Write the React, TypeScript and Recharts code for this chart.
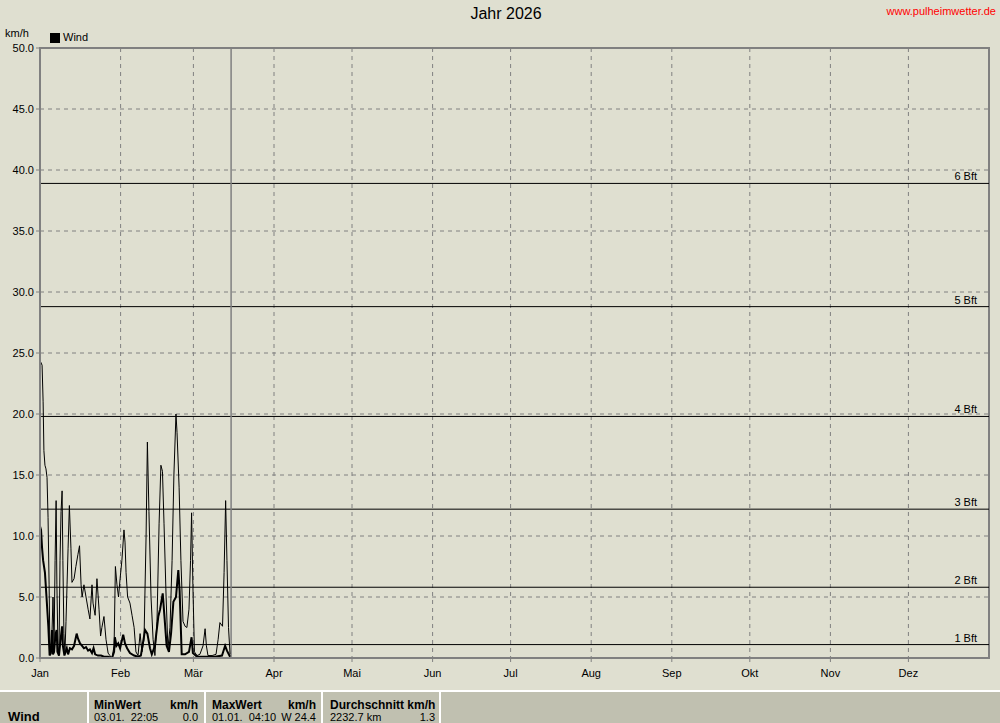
import React from "react";
import {
  LineChart,
  Line,
  XAxis,
  YAxis,
  CartesianGrid,
  ReferenceLine,
  ReferenceArea,
} from "recharts";

// month starts (day of year) and labels
const monthStarts = [0, 31, 59, 90, 120, 151, 181, 212, 243, 273, 304, 334];
const monthNames = ["Jan", "Feb", "Mär", "Apr", "Mai", "Jun", "Jul", "Aug", "Sep", "Okt", "Nov", "Dez"];
const yTicks = [0, 5, 10, 15, 20, 25, 30, 35, 40, 45, 50];

// Beaufort thresholds in km/h
const bftLevels = [1.1, 5.8, 12.2, 19.8, 28.8, 38.9];
const bftNames = ["1 Bft", "2 Bft", "3 Bft", "4 Bft", "5 Bft", "6 Bft"];

const today = 73.5;

// thin line: gusts
const gustDays = [
  0.0, 0.4, 0.8, 1.2, 1.5, 1.9, 2.3, 2.7, 3.1, 3.5, 3.8, 4.2, 4.6, 5.0, 5.4, 5.8, 6.2, 6.5, 6.9, 7.3,
  7.7, 8.1, 8.5, 8.8, 9.2, 9.6, 10.0, 10.4, 10.8, 11.3, 11.9, 12.3, 13.1, 13.8, 14.6, 15.2, 15.8, 16.2,
  16.9, 17.7, 18.5, 19.2, 20.0, 20.4, 21.2, 21.9, 22.7, 23.3, 23.8, 24.6, 25.4, 26.2, 26.9, 27.7, 28.5,
  29.0, 29.6, 30.2, 30.8, 31.5, 32.3, 32.7, 33.1, 33.7, 34.6, 35.4, 36.2, 36.9, 37.7, 38.5, 39.2, 40.0,
  40.8, 41.3, 41.9, 42.7, 43.5, 44.2, 45.0, 45.8, 46.5, 47.1, 47.7, 48.5, 49.2, 50.0, 50.8, 51.5, 52.3,
  52.7, 53.5, 54.2, 55.0, 55.8, 56.5, 57.3, 57.9, 58.3, 58.8, 59.4, 60.4, 61.5, 62.7, 63.5, 64.0, 64.6,
  66.2, 67.7, 68.5, 69.2, 70.2, 70.8, 71.4, 71.9, 72.5, 73.1,
];
const gust = [
  24.4, 24.2, 24.0, 21.0, 17.0, 15.8, 15.5, 14.8, 11.5, 6.0, 1.0, 0.3, 2.0, 5.0, 1.0, 8.0, 12.9, 6.0, 1.0, 0.3,
  8.0, 12.0, 13.7, 8.0, 2.0, 0.5, 3.0, 6.0, 9.0, 12.5, 9.0, 6.2, 6.5, 7.5, 8.5, 9.2, 6.0, 5.0,
  6.0, 5.0, 4.0, 3.2, 6.0, 4.5, 3.5, 6.5, 4.0, 1.8, 2.5, 3.4, 1.5, 0.4, 0.2, 0.0, 1.0,
  7.5, 6.0, 5.0, 6.5, 8.0, 10.5, 9.5, 7.0, 5.0, 4.5, 3.5, 2.5, 0.5, 0.2, 2.0, 0.5, 1.5,
  10.0, 17.7, 12.0, 5.0, 1.5, 0.2, 3.0, 11.0, 15.8, 15.3, 11.0, 5.0, 0.8, 2.5, 8.0, 15.0, 20.0,
  18.5, 14.0, 8.0, 3.0, 2.6, 2.5, 4.0, 8.0, 11.9, 6.0, 0.5, 0.2, 0.3, 1.0, 2.4, 1.0, 0.2,
  0.2, 0.3, 1.5, 2.9, 2.6, 7.0, 12.9, 8.0, 2.5, 0.3,
];

// thick line: mean wind
const avgDays = [
  0.0, 0.4, 0.8, 1.2, 1.9, 2.5, 3.2, 3.7, 4.2, 4.6, 5.0, 5.4, 6.0, 6.4, 6.7, 7.3, 7.9, 8.5, 8.8, 9.4,
  10.3, 10.8, 11.5, 12.3, 13.1, 14.1, 14.6, 15.4, 16.2, 16.9, 17.7, 18.5, 19.2, 20.0, 20.6, 21.2, 22.3,
  23.5, 24.6, 26.2, 27.7, 28.5, 28.8, 29.4, 30.1, 30.8, 32.0, 32.7, 33.5, 34.6, 36.2, 37.7, 38.8, 40.4,
  41.3, 42.3, 43.0, 44.2, 45.5, 46.2, 47.2, 47.8, 48.7, 49.6, 50.4, 51.3, 52.3, 53.2, 53.7, 54.5, 55.8,
  57.3, 58.3, 58.8, 60.4, 63.5, 67.3, 70.0, 71.2, 71.9, 73.1,
];
const avg = [
  10.8, 10.5, 9.0, 8.0, 7.0, 5.0, 2.6, 0.2, 0.5, 2.3, 0.3, 0.5, 2.0, 2.3, 0.5, 0.2, 1.5, 2.6, 1.0, 0.2,
  0.8, 0.3, 0.8, 0.7, 1.0, 2.0, 1.6, 1.2, 1.0, 0.8, 0.9, 0.6, 0.7, 0.4, 0.8, 0.3, 0.2,
  0.2, 0.1, 0.1, 0.0, 0.5, 1.7, 1.0, 1.2, 0.8, 1.9, 1.2, 0.8, 0.4, 0.2, 0.1, 0.2, 2.3,
  2.0, 0.8, 0.3, 1.0, 3.4, 4.0, 5.3, 3.6, 1.0, 0.5, 2.0, 4.6, 5.0, 7.2, 5.5, 0.3, 0.3,
  0.5, 1.7, 0.4, 0.1, 0.1, 0.1, 0.2, 1.0, 0.6, 0.1,
];

const gustData = gustDays.map((d, i) => ({ day: d, value: gust[i] }));
const avgData = avgDays.map((d, i) => ({ day: d, value: avg[i] }));

const FONT = "'Liberation Sans', Arial, sans-serif";
const GRAY = "#808080";

const BftLabel = (props: any) => {
  const { viewBox, text } = props;
  if (!viewBox) return null;
  return (
    <text x={viewBox.x + viewBox.width - 12} y={viewBox.y - 3} textAnchor="end" fontSize={11} fill="#000">
      {text}
    </text>
  );
};

const cellSep = { position: "absolute" as const, top: 0, bottom: 0, width: 2, background: "#fff" };

export default function App() {
  return (
    <div
      style={{
        position: "absolute",
        left: 0,
        top: 0,
        width: 1000,
        height: 723,
        overflow: "hidden",
        background: "#DFDFD0",
        fontFamily: FONT,
        color: "#000",
      }}
    >
      <div style={{ position: "absolute", left: 0, width: 1012, top: 5, textAlign: "center", fontSize: 16 }}>
        Jahr 2026
      </div>
      <div style={{ position: "absolute", right: 4, top: 5, fontSize: 11, color: "#FF0000" }}>www.pulheimwetter.de</div>
      <div style={{ position: "absolute", left: 5, top: 27, fontSize: 11 }}>km/h</div>
      <div style={{ position: "absolute", left: 50, top: 33, width: 10, height: 10, background: "#000" }} />
      <div style={{ position: "absolute", left: 63, top: 31, fontSize: 11 }}>Wind</div>

      <LineChart
        width={1000}
        height={690}
        margin={{ top: 48, right: 11, bottom: 0, left: 0 }}
        style={{ fontFamily: FONT }}
      >
        <CartesianGrid stroke={GRAY} strokeDasharray="4 4" />
        <XAxis
          dataKey="day"
          type="number"
          domain={[0, 365]}
          ticks={monthStarts}
          tickFormatter={(v: number) => monthNames[monthStarts.indexOf(v)]}
          height={32}
          allowDataOverflow
          axisLine={{ stroke: GRAY, strokeWidth: 2 }}
          tickLine={{ stroke: GRAY }}
          tickSize={4}
          tickMargin={7}
          tick={{ fill: "#000", fontSize: 11 }}
          interval={0}
        />
        <YAxis
          domain={[0, 50]}
          ticks={yTicks}
          tickFormatter={(v: number) => v.toFixed(1)}
          width={40}
          allowDataOverflow
          axisLine={{ stroke: GRAY, strokeWidth: 2 }}
          tickLine={{ stroke: GRAY }}
          tickSize={4}
          tick={{ fill: "#000", fontSize: 11 }}
          interval={0}
        />
        {bftLevels.map((lv, i) => (
          <ReferenceLine key={lv} y={lv} stroke="#000" strokeWidth={1} label={<BftLabel text={bftNames[i]} />} />
        ))}
        <ReferenceLine x={today} stroke={GRAY} strokeWidth={1.5} />
        <Line
          data={gustData}
          dataKey="value"
          name="Böe"
          type="linear"
          stroke="#000"
          strokeWidth={1}
          dot={false}
          isAnimationActive={false}
        />
        <Line
          data={avgData}
          dataKey="value"
          name="Wind"
          type="linear"
          stroke="#000"
          strokeWidth={2}
          dot={false}
          isAnimationActive={false}
        />
        <ReferenceArea x1={0} x2={365} y1={0} y2={50} fill="none" stroke={GRAY} strokeWidth={2} />
      </LineChart>

      <div
        style={{
          position: "absolute",
          left: 0,
          top: 690,
          width: 1000,
          height: 33,
          background: "#C0C0B0",
          borderTop: "2px solid #fff",
          fontSize: 12,
        }}
      >
        <div style={{ ...cellSep, left: 87 }} />
        <div style={{ ...cellSep, left: 204 }} />
        <div style={{ ...cellSep, left: 321 }} />
        <div style={{ ...cellSep, left: 439 }} />
        <div style={{ position: "absolute", left: 8, top: 17, fontWeight: "bold", fontSize: 13 }}>Wind</div>

        <div style={{ position: "absolute", left: 94, top: 6, fontWeight: "bold" }}>MinWert</div>
        <div style={{ position: "absolute", left: 160, width: 38, top: 6, fontWeight: "bold", textAlign: "right" }}>km/h</div>
        <div style={{ position: "absolute", left: 94, top: 19, fontSize: 11 }}>03.01.&nbsp;&nbsp;22:05</div>
        <div style={{ position: "absolute", left: 160, width: 38, top: 19, fontSize: 11, textAlign: "right" }}>0.0</div>

        <div style={{ position: "absolute", left: 212, top: 6, fontWeight: "bold" }}>MaxWert</div>
        <div style={{ position: "absolute", left: 278, width: 38, top: 6, fontWeight: "bold", textAlign: "right" }}>km/h</div>
        <div style={{ position: "absolute", left: 212, top: 19, fontSize: 11 }}>01.01.&nbsp;&nbsp;04:10</div>
        <div style={{ position: "absolute", left: 266, width: 50, top: 19, fontSize: 11, textAlign: "right" }}>W 24.4</div>

        <div style={{ position: "absolute", left: 330, top: 6, fontWeight: "bold" }}>Durchschnitt km/h</div>
        <div style={{ position: "absolute", left: 330, top: 19, fontSize: 11 }}>2232.7 km</div>
        <div style={{ position: "absolute", left: 395, width: 40, top: 19, fontSize: 11, textAlign: "right" }}>1.3</div>
      </div>
    </div>
  );
}
